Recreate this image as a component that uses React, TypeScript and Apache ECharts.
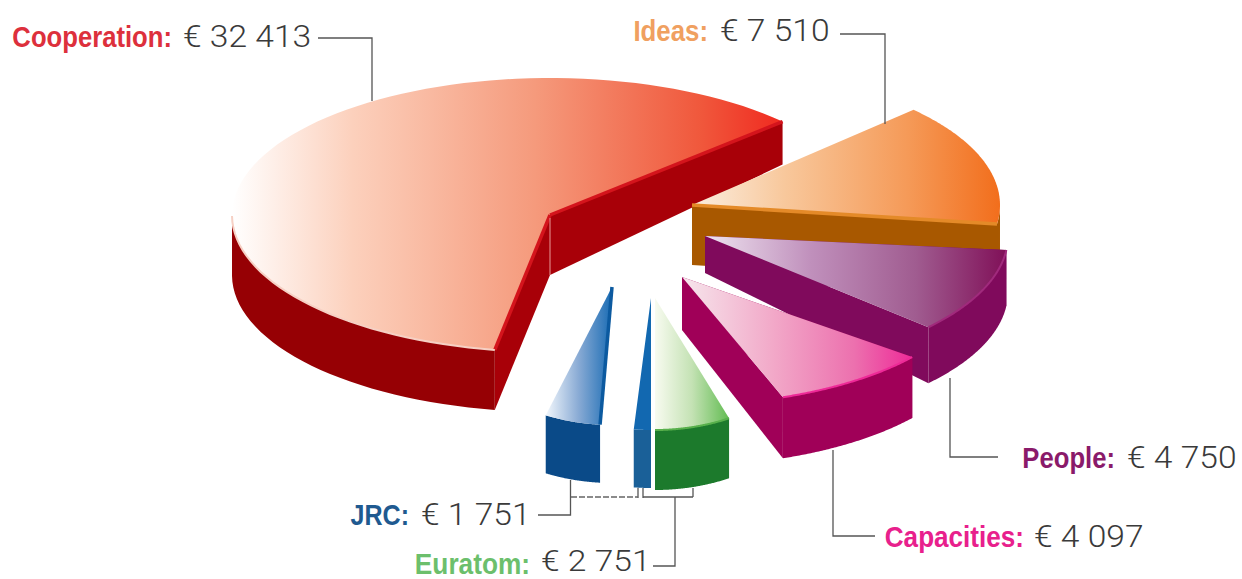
import React, { useEffect, useRef } from "react";
import * as echarts from "echarts";

// ---- values printed on the chart (million euro)
const programmes = ["Cooperation", "Ideas", "People", "Capacities", "Euratom", "JRC"];
const amounts = ["32 413", "7 510", "4 750", "4 097", "2 751", "1 751"];

// ---- wedges: first angle and sweep, degrees
const wedgeNames = ["Cooperation", "Ideas", "People", "Capacities", "Euratom", "JRC (sliver)", "JRC"];
const wedgeStart = [43, 44, -6, -38.7, -65.7, -90, -93.8];
const wedgeSweep = [217, -52, -36.5, -31.3, -24.3, -5.5, -17.8];

// ---- drawing layout of each wedge (same order as wedgeNames)
const W = 1242;
const H = 579;
const pieces: any[] = [
  { cx: 550, cy: 215, rx: 318, ry: 137, depth: 60, apexDepth: 60, depthA: 43, wall: "#960004", cut: "#a80008", cutA: true, cutB: true,
    top: [[0, "#ffffff"], [0.22, "#fcd0bc"], [0.55, "#f59a7c"], [0.85, "#f0583c"], [1, "#f02a20"]],
    rimA: "#d4141c", rimB: "#d4141c", rimArc: "#f6d0c4", apexLine: "#e89a98" },
  { cx: 692, cy: 205, rx: 308, ry: 137, depth: 60, apexDepth: 60, wall: "#a85800", cut: "#a85800", cutA: false, cutB: true,
    top: [[0, "#fbeee0"], [0.3, "#f8c89c"], [0.7, "#f59a58"], [1, "#f26e1c"]],
    rimA: null, rimB: "#e48a28", rimArc: null },
  { cx: 705, cy: 236, rx: 303, ry: 135, depth: 56, apexDepth: 37, wall: "#800a5c", cut: "#800a5c", cutA: true, cutB: true,
    top: [[0, "#eee4f0"], [0.35, "#c090bc"], [0.7, "#a05c90"], [1, "#801058"]],
    rimA: null, rimB: null, rimArc: "#a02a7c" },
  { cx: 682, cy: 277, rx: 295, ry: 128, depth: 61, apexDepth: 53, wall: "#a00058", cut: "#a00058", cutA: true, cutB: true,
    top: [[0, "#f6e6ec"], [0.4, "#f2a8c8"], [0.75, "#ec70ae"], [1, "#ee2a98"]],
    rimA: null, rimB: null, rimArc: "#ee2a98" },
  { cx: 655, cy: 298, rx: 180, ry: 132, depth: 60, apexDepth: 60, wall: "#1c7a2c", cut: "#1c7a2c", cutA: false, cutB: false,
    top: [[0, "#f8fbf0"], [0.5, "#c4e2b4"], [1, "#62bc52"]],
    rimA: null, rimB: null, rimArc: "#58b04c" },
  { cx: 651, cy: 298, rx: 180, ry: 132, depth: 58, apexDepth: 58, wall: "#1a6098", cut: "#1a6098", cutA: false, cutB: false,
    top: [[0, "#1268b0"], [1, "#1268b0"]],
    rimA: null, rimB: null, rimArc: null },
  { cx: 612, cy: 287, rx: 180, ry: 138, depth: 58, apexDepth: 58, wall: "#0a4a88", cut: "#0a4a88", cutA: false, cutB: false,
    top: [[0, "#f2f7fc"], [0.5, "#88aad4"], [1, "#1a6cb4"]],
    rimA: "#0c5aa0", rimB: null, rimArc: null },
];

const labelLayout = [
  { nameEnd: 172, nameScale: 0.885, valueStart: 183, y: 37, vy: 36, vSize: 32, vScale: 1.05, color: "#dd303c" },
  { nameEnd: 708, nameScale: 0.89, valueStart: 720, y: 31, vy: 30, vSize: 32, vScale: 1.05, color: "#f0a060" },
  { nameEnd: 1115, nameScale: 0.885, valueStart: 1127, y: 458, vy: 457, vSize: 32, vScale: 1.05, color: "#8a1a6a" },
  { nameEnd: 1024, nameScale: 0.9, valueStart: 1034, y: 537, vy: 536, vSize: 32, vScale: 1.05, color: "#e8208c" },
  { nameEnd: 530, nameScale: 0.905, valueStart: 541, y: 564, vy: 561, vSize: 30, vScale: 1.12, color: "#6cbf6c" },
  { nameEnd: 409, nameScale: 0.865, valueStart: 421, y: 515, vy: 514, vSize: 32, vScale: 1.05, color: "#1f5a90" },
];

const leaderLines = [
  [[318, 38], [372, 38], [372, 101]],
  [[840, 34], [885, 34], [885, 124]],
  [[950, 378], [950, 457], [998, 457]],
  [[833, 450], [833, 536], [875, 536]],
  [[570.5, 480], [570.5, 515], [538, 515]],
  [[638, 488], [638, 498]],
  [[643, 488], [643, 498]],
  [[643, 497], [693, 497]],
  [[693, 488], [693, 497]],
  [[675, 497], [675, 566], [653, 566]],
];
const dashedLine = [[571, 497], [638, 497]];

const rad = (d: number) => (d * Math.PI) / 180;

function renderWedge(_params: any, api: any) {
  const i = api.value(0);
  const start = api.value(1);
  const sweep = api.value(2);
  const p = pieces[i];
  const pt = (x: number, y: number) => api.coord([x, y]);
  const rim = (a: number) => [p.cx + p.rx * Math.cos(rad(a)), p.cy - p.ry * Math.sin(rad(a))];
  const steps = 90;
  const arcAngles: number[] = [];
  for (let k = 0; k <= steps; k++) arcAngles.push(start + (sweep * k) / steps);
  const topPts = [pt(p.cx, p.cy), ...arcAngles.map((a) => { const r = rim(a); return pt(r[0], r[1]); })];
  const low = arcAngles.filter((a) => Math.sin(rad(a)) <= 0.001);
  const children: any[] = [];
  const quad = (a: number, rimDepth: number) => {
    const r = rim(a);
    return [pt(p.cx, p.cy), pt(r[0], r[1]), pt(r[0], r[1] + rimDepth), pt(p.cx, p.cy + p.apexDepth)];
  };
  if (p.cutA) children.push({ type: "polygon", shape: { points: quad(start, p.depthA ?? p.depth) }, style: { fill: p.cut } });
  if (p.cutB) children.push({ type: "polygon", shape: { points: quad(start + sweep, p.depth) }, style: { fill: p.cut } });
  if (low.length > 1) {
    const upper = low.map((a) => { const r = rim(a); return pt(r[0], r[1]); });
    const lower = low.slice().reverse().map((a) => { const r = rim(a); return pt(r[0], r[1] + p.depth); });
    children.push({ type: "polygon", shape: { points: [...upper, ...lower] }, style: { fill: p.wall } });
  }
  children.push({
    type: "polygon",
    shape: { points: topPts },
    style: {
      fill: new echarts.graphic.LinearGradient(0, 0, 1, 0, p.top.map(([offset, color]: any) => ({ offset, color }))),
    },
  });
  const edge = (a: number) => { const r = rim(a); return [pt(p.cx, p.cy), pt(r[0], r[1])]; };
  if (p.rimA) children.push({ type: "polyline", shape: { points: edge(start) }, style: { stroke: p.rimA, lineWidth: 3.5, fill: "none" } });
  if (p.rimB) children.push({ type: "polyline", shape: { points: edge(start + sweep) }, style: { stroke: p.rimB, lineWidth: 3.5, fill: "none" } });
  if (p.rimArc && low.length > 1) {
    children.push({
      type: "polyline",
      shape: { points: low.map((a) => { const r = rim(a); return pt(r[0], r[1]); }) },
      style: { stroke: p.rimArc, lineWidth: 2, fill: "none" },
    });
  }
  if (p.apexLine) {
    children.push({
      type: "polyline",
      shape: { points: [pt(p.cx, p.cy + 3), pt(p.cx, p.cy + p.apexDepth)] },
      style: { stroke: p.apexLine, lineWidth: 1, fill: "none" },
    });
  }
  return { type: "group", children };
}

export default function App() {
  const ref = useRef<HTMLDivElement>(null);
  useEffect(() => {
    document.body.style.margin = "0";
    document.body.style.background = "#fff";
    const chart = echarts.init(ref.current!, undefined, { renderer: "svg" });
    const graphic: any[] = [];
    leaderLines.forEach((points) => {
      graphic.push({ type: "polyline", z: 10, shape: { points }, style: { stroke: "#555", lineWidth: 1.3, fill: "none" } });
    });
    graphic.push({ type: "polyline", z: 10, shape: { points: dashedLine }, style: { stroke: "#666", lineWidth: 1.3, lineDash: [6, 2], fill: "none" } });
    programmes.forEach((name, i) => {
      const l = labelLayout[i];
      graphic.push({
        type: "text", z: 11, x: l.nameEnd, y: l.y, scaleX: l.nameScale,
        style: { text: name + ":", fill: l.color, font: 'bold 29px "Liberation Sans"', lineHeight: 28, textAlign: "right", textVerticalAlign: "middle" },
      });
      graphic.push({
        type: "text", z: 11, x: l.valueStart, y: l.vy, scaleX: l.vScale,
        style: { text: "€ " + amounts[i], fill: "#3a3a3a", font: `300 ${l.vSize}px Roboto, "Liberation Sans"`, lineHeight: 28, textAlign: "left", textVerticalAlign: "middle" },
      });
    });
    chart.setOption({
      animation: false,
      backgroundColor: "#ffffff",
      grid: { left: 0, right: 0, top: 0, bottom: 0 },
      xAxis: { type: "value", min: 0, max: W, show: false },
      yAxis: { type: "value", min: 0, max: H, inverse: true, show: false },
      series: [
        {
          type: "custom",
          clip: false,
          silent: true,
          renderItem: renderWedge,
          encode: { x: 3, y: 4 },
          data: wedgeNames.map((name, i) => ({ name, value: [i, wedgeStart[i], wedgeSweep[i], pieces[i].cx, pieces[i].cy] })),
        },
      ],
      graphic,
    });
    return () => chart.dispose();
  }, []);
  return <div ref={ref} style={{ position: "absolute", left: 0, top: 0, width: W, height: H }} />;
}
